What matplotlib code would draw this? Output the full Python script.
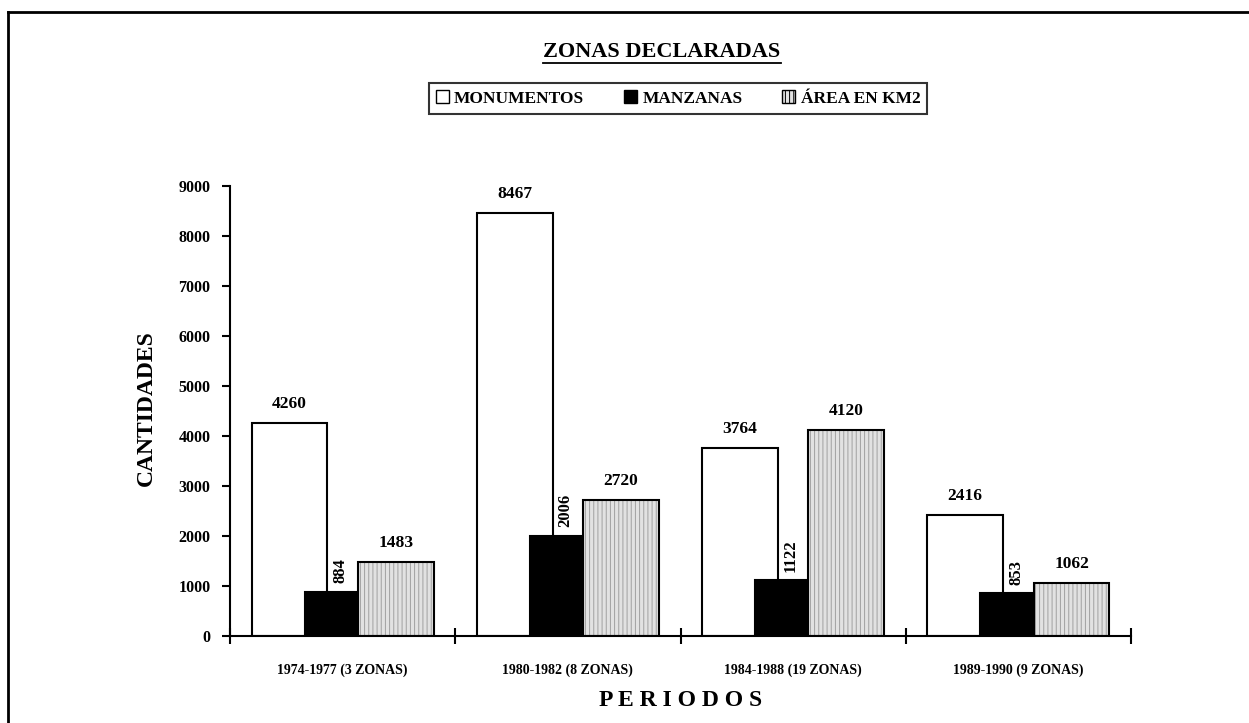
import matplotlib
matplotlib.use("Agg")
import matplotlib.pyplot as plt
import numpy as np
from matplotlib.patches import Patch
from matplotlib.lines import Line2D

# ---- data ----
periods = ["1974-1977 (3 ZONAS)", "1980-1982 (8 ZONAS)",
           "1984-1988 (19 ZONAS)", "1989-1990 (9 ZONAS)"]
monumentos = [4260, 8467, 3764, 2416]
manzanas = [884, 2006, 1122, 853]
area_km2 = [1483, 2720, 4120, 1062]
series_names = ["MONUMENTOS", "MANZANAS", "ÁREA EN KM2"]
yticks = [0, 1000, 2000, 3000, 4000, 5000, 6000, 7000, 8000, 9000]

plt.rcParams['font.family'] = ['Liberation Serif', 'DejaVu Serif']
plt.rcParams['font.weight'] = 'bold'
plt.rcParams['hatch.linewidth'] = 0.7

W, H = 1249, 723
fig = plt.figure(figsize=(W / 100, H / 100), dpi=100)
fig.patch.set_facecolor('white')
ax = fig.add_axes([230 / W, (H - 636) / H, 901 / W, 450 / H])

x = np.arange(len(periods))
lw = 1.5

# white bars
ax.bar(x - 0.236, monumentos, width=0.337, facecolor='white',
       edgecolor='black', linewidth=lw, zorder=2)
# grey hatched bars (fill + hatch, then outline)
ax.bar(x + 0.236, area_km2, width=0.337, facecolor='#e2e2e2',
       edgecolor='#a0a0a0', hatch='||||', linewidth=0, zorder=2)
ax.bar(x + 0.236, area_km2, width=0.337, fill=False,
       edgecolor='black', linewidth=lw, zorder=3)
# black bars in front
ax.bar(x - 0.053, manzanas, width=0.231, facecolor='black',
       edgecolor='black', linewidth=lw, zorder=4)

# value labels
for i in range(len(periods)):
    ax.annotate(str(monumentos[i]), (x[i] - 0.236, monumentos[i]),
                xytext=(0, 8), textcoords='offset points', ha='center',
                va='bottom', fontsize=12.5, fontweight='bold')
    ax.annotate(str(area_km2[i]), (x[i] + 0.236, area_km2[i]),
                xytext=(0, 8), textcoords='offset points', ha='center',
                va='bottom', fontsize=12.5, fontweight='bold')
    ax.annotate(str(manzanas[i]), (x[i] - 0.01, manzanas[i]),
                xytext=(0, 6), textcoords='offset points', ha='center',
                va='bottom', rotation=90, fontsize=12, fontweight='bold',
                zorder=5)

ax.set_xlim(-0.5, len(periods) - 0.5)
ax.set_ylim(0, 9000)
ax.set_yticks(yticks)
ax.set_yticklabels([str(v) for v in yticks], fontsize=11.5, fontweight='bold')
ax.tick_params(axis='y', direction='out', length=6, width=1.5, pad=8)

ax.set_xticks(np.arange(len(periods) + 1) - 0.5)
ax.set_xticklabels([])
ax.tick_params(axis='x', which='major', direction='inout', length=12, width=1.5)
ax.set_xticks(x, minor=True)
ax.set_xticklabels(periods, minor=True, fontsize=10, fontweight='bold')
ax.tick_params(axis='x', which='minor', length=0, pad=20)

for s in ['top', 'right']:
    ax.spines[s].set_visible(False)
for s in ['left', 'bottom']:
    ax.spines[s].set_linewidth(1.5)

fig.text(146 / W, (H - 408) / H, "CANTIDADES", rotation=90, ha='center',
         va='center', fontsize=17, fontweight='bold')

fig.text(681 / W, (H - 700) / H, "P E R I O D O S", ha='center', va='center',
         fontsize=17, fontweight='bold')

# title with underline
title = fig.text(662 / W, (H - 52) / H, "ZONAS DECLARADAS", ha='center',
                 va='center', fontsize=16, fontweight='bold')

# legend
handles = [Patch(facecolor='white', edgecolor='black', linewidth=1),
           Patch(facecolor='black', edgecolor='black', linewidth=1),
           Patch(facecolor='#e2e2e2', edgecolor='black', linewidth=1, hatch='||||')]
leg = fig.legend(handles, series_names, loc='center',
                 bbox_to_anchor=(678 / W, (H - 98.5) / H), ncol=3,
                 fontsize=12.5, frameon=True, fancybox=False, shadow=False,
                 handlelength=0.75, handleheight=0.75, handletextpad=0.3,
                 columnspacing=2.3, borderpad=0.4, borderaxespad=0)
leg.get_frame().set_edgecolor('black')
leg.get_frame().set_linewidth(1.5)
for t in leg.get_texts():
    t.set_fontweight('bold')

fig.canvas.draw()
bb = title.get_window_extent().transformed(fig.transFigure.inverted())
fig.add_artist(Line2D([bb.x0, bb.x1], [bb.y0 - 0.002, bb.y0 - 0.002],
                      transform=fig.transFigure, color='black', linewidth=1.3))

# outer frame (left and top)
fig.add_artist(Line2D([8 / W, 8 / W], [0, 1 - 12 / H], transform=fig.transFigure,
                      color='black', linewidth=2))
fig.add_artist(Line2D([8 / W, 1], [1 - 12 / H, 1 - 12 / H], transform=fig.transFigure,
                      color='black', linewidth=2))

fig.savefig("out.png", dpi=100)
